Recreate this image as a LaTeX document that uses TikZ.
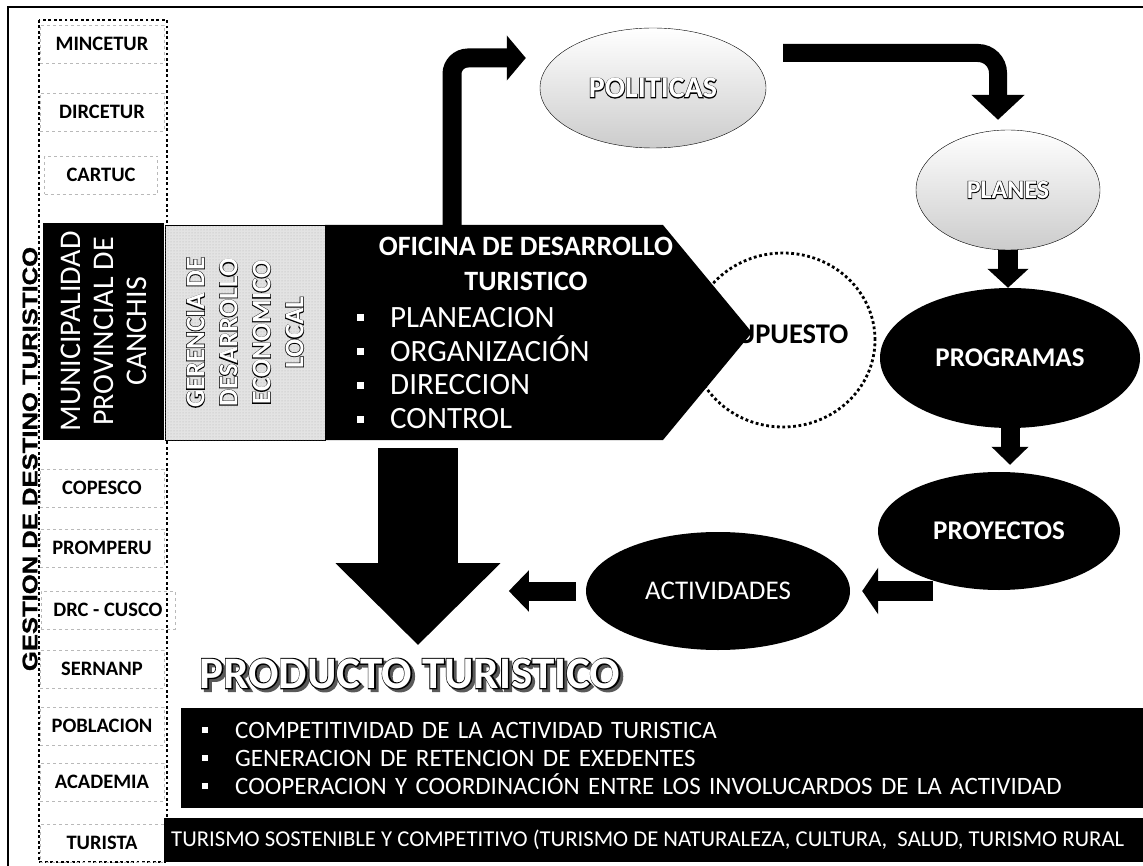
\documentclass[tikz,border=0pt]{standalone}
\usepackage{fontspec}
\setmainfont{Carlito}
\newfontfamily\gestfont{Liberation Sans}[BoldFeatures={FakeBold=1.2}]
\newfontfamily\rimfont{Carlito}[BoldFeatures={FakeBold=5}]
\usetikzlibrary{calc, shapes.geometric, arrows.meta, patterns}

% hollow letters: black rim, white face
\newcommand\hollow[1]{\rlap{\rimfont\bfseries\textcolor{black}{#1}}\textcolor{white}{#1}}
\newcommand\hollowsh[1]{\rlap{\kern2.8pt\lower2.8pt\hbox{\rimfont\bfseries\textcolor{gray!70!black}{#1}}}\hollow{#1}}
\newcommand\bsq{\rule[6pt]{7pt}{7pt}\hspace{26pt}}
\newcommand\bsqs{\rule[5pt]{6pt}{6pt}\hspace{27pt}}

\begin{document}
\begin{tikzpicture}[x=1pt, y=-1pt,
    colbox/.style={draw=gray!55, dashed, very thin, minimum width=124pt,
      minimum height=38pt, inner sep=0pt, font=\fontsize{20.5}{24}\selectfont\bfseries},
    dotline/.style={line width=2.8pt, dash pattern=on 2.8pt off 2.6pt},
    blackoval/.style={ellipse, fill=black, text=white, inner sep=0pt},
    greyoval/.style={ellipse, draw=black, thin, top color=white, bottom color=gray!40,
      inner sep=0pt, font=\bfseries},
    fat/.style={draw=black, line width=#1}]
  \useasboundingbox (0,0) rectangle (1143,866);

  % frame and left column
  \draw[line width=1.8pt] (8,866) -- (8,7) -- (1143,7);
  \draw[dotline] (39,20) rectangle (167,862);
  \node[rotate=90, font=\gestfont\bfseries\fontsize{21}{21}\selectfont] (gest) at (30,459)
    {\scalebox{1.22}[1]{GESTION DE DESTINO TURISTICO}};

  \node[colbox] (mincetur) at (102,44) {MINCETUR};
  \node[colbox] (dircetur) at (102,112) {DIRCETUR};
  \node[colbox, minimum width=113pt] (cartuc) at (101,175) {CARTUC};
  \node[colbox] (copesco) at (102,488) {COPESCO};
  \node[colbox] (promperu) at (102,548) {PROMPERU};
  \node[colbox, minimum width=134pt] (drc) at (108,610) {DRC - CUSCO};
  \node[colbox] (sernanp) at (102,669) {SERNANP};
  \node[colbox] (poblacion) at (102,726) {POBLACION};
  \node[colbox] (academia) at (102,782) {ACADEMIA};
  \node[colbox] (turista) at (102,843) {TURISTA};

  \node[fill=black, text=white, rotate=90, minimum width=217pt, minimum height=121pt,
    align=center, inner sep=0pt, font=\fontsize{30}{33}\selectfont] (muni) at (103.5,331.5)
    {MUNICIPALIDAD\\PROVINCIAL DE\\CANCHIS};
  \node[draw=black, thin, fill=gray!22, postaction={pattern=dots, pattern color=gray!60},
    rotate=90, minimum width=215pt, minimum height=160pt, align=center, inner sep=0pt,
    font=\fontsize{27}{33}\selectfont\bfseries] (geren) at (245,332.5)
    {\hollow{GERENCIA DE}\\\hollow{DESARROLLO}\\\hollow{ECONOMICO}\\\hollow{LOCAL}};

  % presupuesto behind the office
  \node[ellipse, draw, dotline, minimum width=184pt, minimum height=174pt] (pres) at (783,340) {};
  \node[anchor=base east, font=\fontsize{28.5}{32}\selectfont\bfseries] (prestxt) at (852,344) {PRESUPUESTO};

  % office
  \fill (325,225) -- (663,225) -- (752,332.5) -- (663,440) -- (325,440) -- cycle;
  \coordinate (ofitop) at (452,225);
  \coordinate (ofibot) at (418,440);
  \node[text=white, align=center, font=\fontsize{28}{35}\selectfont\bfseries] (ofi) at (526,264)
    {OFICINA DE DESARROLLO\\TURISTICO};
  \node[text=white, align=left, anchor=west, inner sep=0pt, font=\fontsize{31}{33.7}\selectfont] (fun)
    at (357,368) {\bsq PLANEACION\\\bsq ORGANIZACIÓN\\\bsq DIRECCION\\\bsq CONTROL};

  % cycle
  \node[greyoval, minimum width=226pt, minimum height=120pt, font=\fontsize{30}{32}\selectfont\bfseries]
    (pol) at (653,88) {\hollow{POLITICAS}};
  \node[greyoval, minimum width=184pt, minimum height=120pt, font=\fontsize{26}{28}\selectfont\bfseries]
    (pla) at (1008,190) {\hollow{PLANES}};
  \node[blackoval, minimum width=260pt, minimum height=140pt, font=\fontsize{27}{30}\selectfont\bfseries]
    (pro) at (1010,358) {PROGRAMAS};
  \node[blackoval, minimum width=242pt, minimum height=118pt, font=\fontsize{27}{30}\selectfont\bfseries]
    (pry) at (999,531) {PROYECTOS};
  \node[blackoval, minimum width=264pt, minimum height=118pt, font=\fontsize{27}{30}\selectfont]
    (act) at (718,591) {ACTIVIDADES};

  \node[font=\fontsize{45}{50}\selectfont\bfseries] (prod) at (410,675) {\hollowsh{PRODUCTO TURISTICO}};

  \draw[fat=19pt, rounded corners=16pt, -{Triangle[length=19pt,width=44pt]}]
    (ofitop) |- ([xshift=-14pt, yshift=30pt]pol.west);
  \draw[fat=18pt, rounded corners=20pt, -{Triangle[length=25pt,width=52pt]}]
    ([xshift=17pt, yshift=35pt]pol.east) -| ([xshift=-10pt, yshift=10pt]pla.north);
  \draw[fat=20pt, -{Triangle[length=19pt,width=40pt]}] (pla.south) -- (pla.south |- pro.north);
  \draw[fat=19pt, -{Triangle[length=18pt,width=36pt]}, shorten >=7pt] (pro.south) -- (pro.south |- pry.north);
  \draw[fat=20pt, -{Triangle[length=16pt,width=46pt]}, shorten >=12pt] ($(act.east)+(83,0)$) -- (act.east);
  \draw[fat=19pt, -{Triangle[length=20pt,width=40pt]}, shorten <=10pt] (act.west) -- ++(-77,0);
  \draw[fat=80pt, -{Triangle[length=82pt,width=160pt]}]
    ([yshift=-8pt]ofibot) -- ([yshift=10pt]prod.north -| ofibot);

  % product
  \node[fill=black, text=white, anchor=north west, minimum width=962pt, minimum height=100pt,
    text width=920pt, inner xsep=21pt, inner ysep=0pt, align=left,
    font=\fontsize{25}{28}\selectfont] (ben) at (181,708)
    {\bsqs COMPETITIVIDAD DE LA ACTIVIDAD TURISTICA\\
     \bsqs GENERACION DE RETENCION DE EXEDENTES\\
     \bsqs COOPERACION Y COORDINACIÓN ENTRE LOS INVOLUCARDOS DE LA ACTIVIDAD};
  \node[fill=black, text=white, anchor=north west, minimum width=979pt, minimum height=44pt,
    inner xsep=7pt, font=\fontsize{22.7}{25}\selectfont] (bar) at (164,818)
    {\makebox[965pt][l]{TURISMO SOSTENIBLE Y COMPETITIVO (TURISMO DE NATURALEZA, CULTURA, \ SALUD, TURISMO RURAL}};
\end{tikzpicture}
\end{document}
